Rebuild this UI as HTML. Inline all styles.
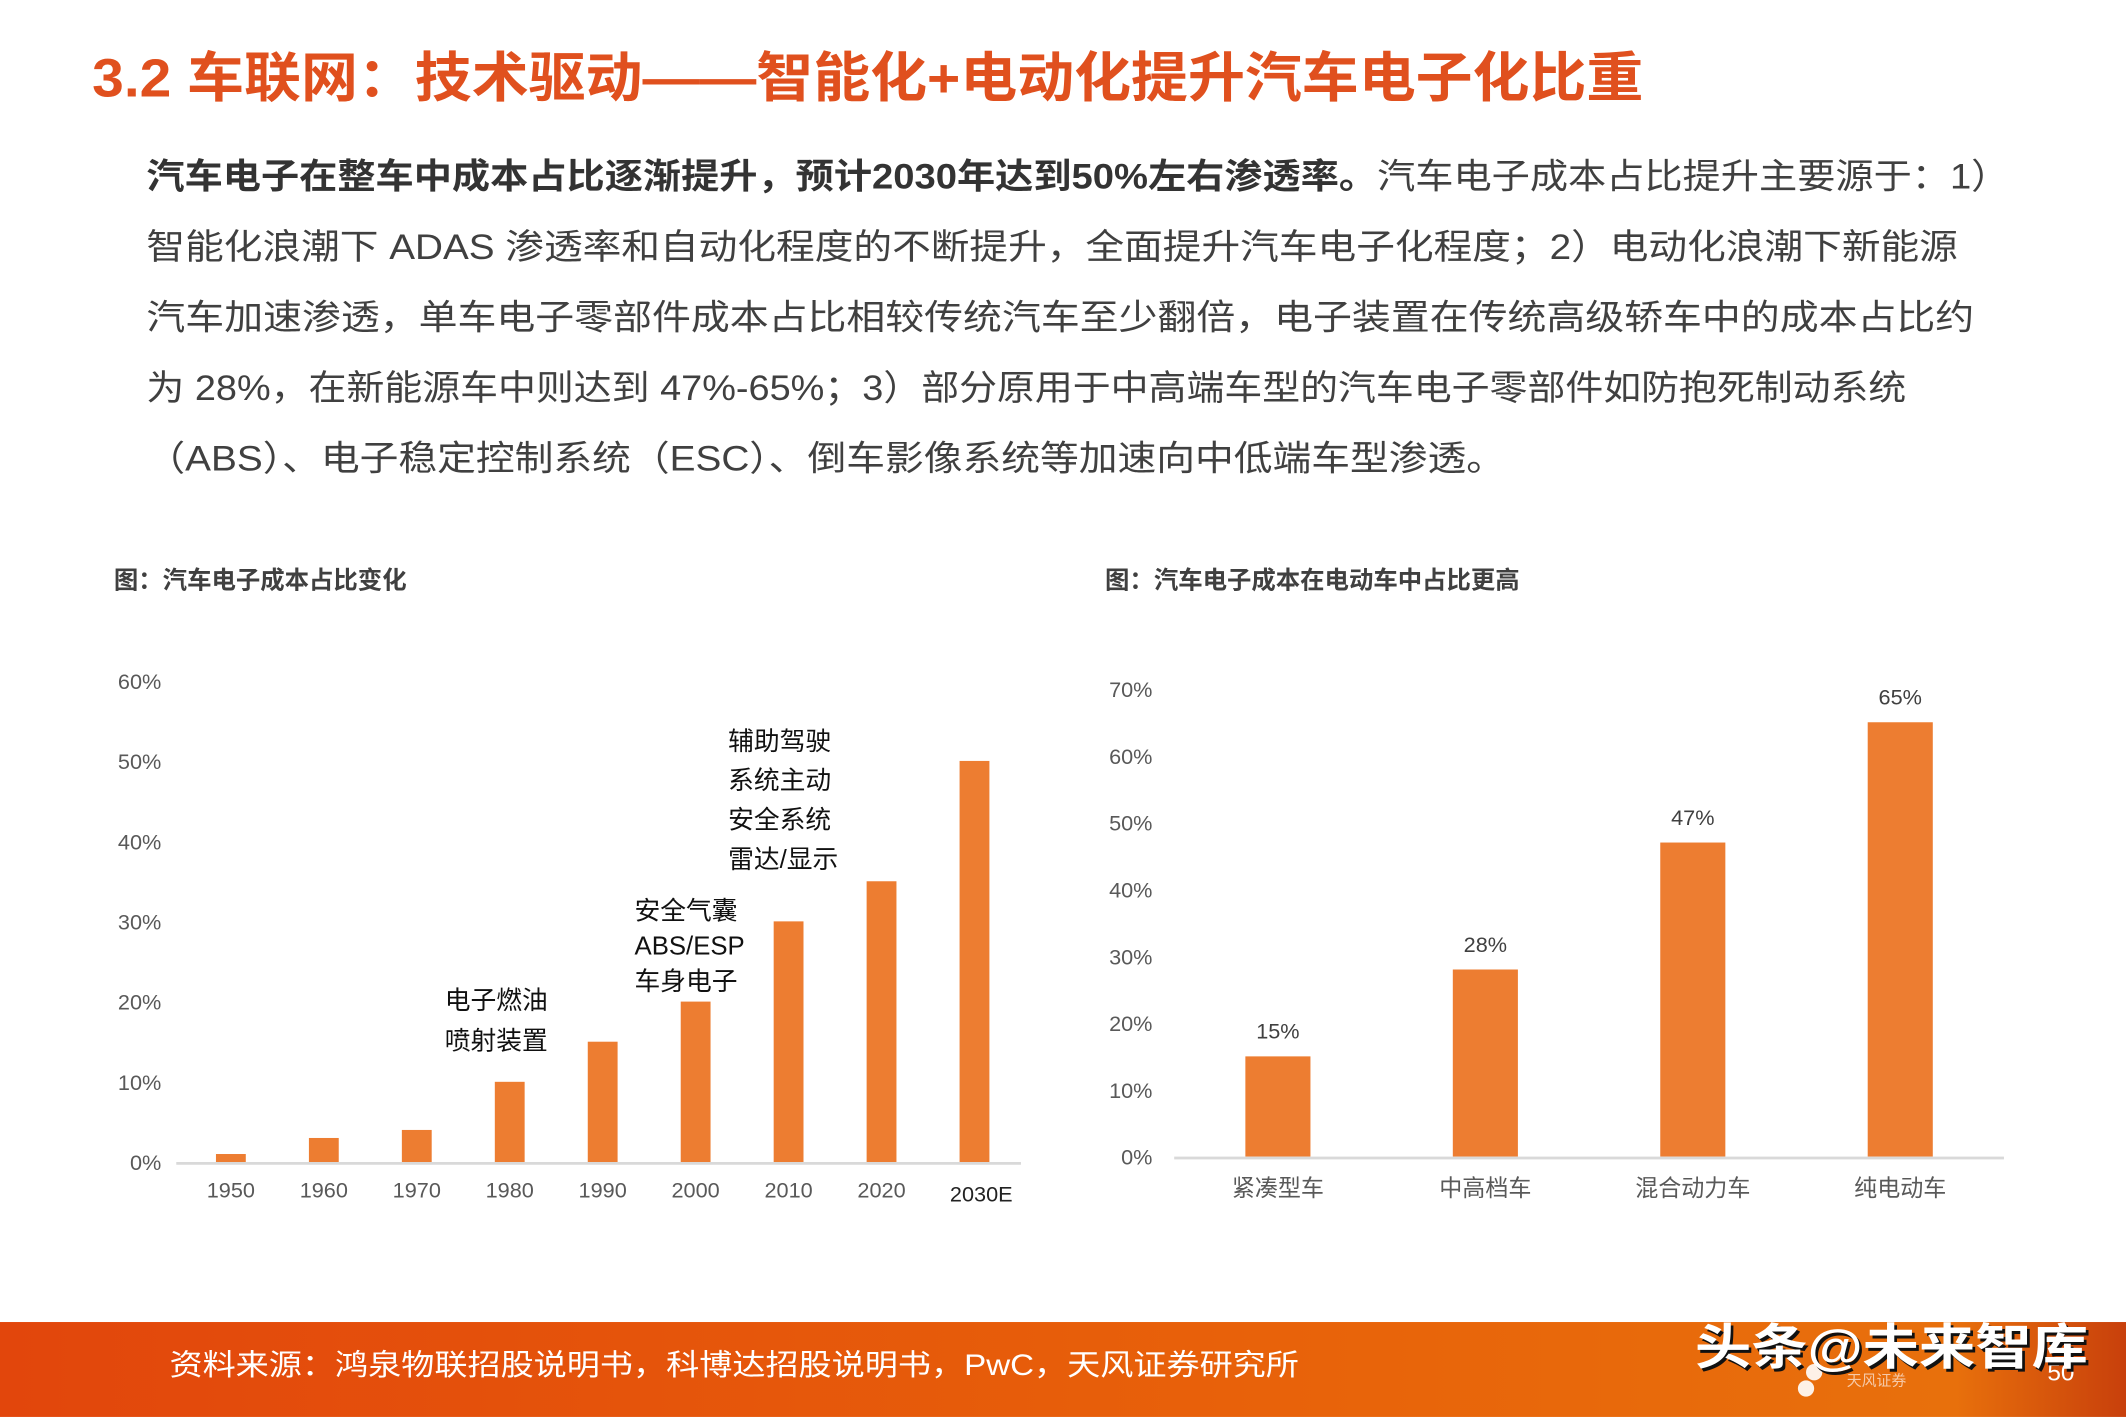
<!DOCTYPE html>
<html><head><meta charset="utf-8">
<style>
html,body{margin:0;padding:0;background:#fff;}
svg{display:block;}
text{font-family:"Liberation Sans","Noto Sans CJK SC",sans-serif;}
</style></head>
<body>
<svg id="page" width="2126" height="1417" viewBox="0 0 1568 1045" xmlns="http://www.w3.org/2000/svg">
<defs>
<linearGradient id="fg" x1="0" x2="1" y1="0" y2="0">
<stop offset="0" stop-color="#E2460C"/><stop offset="0.6" stop-color="#E8620A"/><stop offset="0.92" stop-color="#E8700C"/><stop offset="1" stop-color="#C8400C"/>
</linearGradient>
</defs>
<text x="68" y="71" font-size="40" font-weight="bold" fill="#E0501E" textLength="1144" lengthAdjust="spacingAndGlyphs">3.2 车联网：技术驱动——智能化+电动化提升汽车电子化比重</text>
<g font-size="26" fill="#404040">
<text x="108" y="139" textLength="1374" lengthAdjust="spacingAndGlyphs"><tspan font-weight="bold" fill="#333">汽车电子在整车中成本占比逐渐提升，预计2030年达到50%左右渗透率。</tspan>汽车电子成本占比提升主要源于：1）</text>
<text x="108" y="191" textLength="1336" lengthAdjust="spacingAndGlyphs">智能化浪潮下 ADAS 渗透率和自动化程度的不断提升，全面提升汽车电子化程度；2）电动化浪潮下新能源</text>
<text x="108" y="243" textLength="1348" lengthAdjust="spacingAndGlyphs">汽车加速渗透，单车电子零部件成本占比相较传统汽车至少翻倍，电子装置在传统高级轿车中的成本占比约</text>
<text x="108" y="295" textLength="1298" lengthAdjust="spacingAndGlyphs">为 28%，在新能源车中则达到 47%-65%；3）部分原用于中高端车型的汽车电子零部件如防抱死制动系统</text>
<text x="108" y="347" textLength="1002" lengthAdjust="spacingAndGlyphs">（ABS）、电子稳定控制系统（ESC）、倒车影像系统等加速向中低端车型渗透。</text>
</g>
<text x="84" y="434" font-size="18" font-weight="bold" fill="#404040">图：汽车电子成本占比变化</text>
<text x="815" y="434" font-size="18" font-weight="bold" fill="#404040">图：汽车电子成本在电动车中占比更高</text>
<g id="left-chart"></g>
<g id="right-chart"></g>
<g>
<rect x="0" y="975" width="1568" height="70" fill="url(#fg)"/>
<text x="125" y="1014" font-size="22" fill="#fff" textLength="833" lengthAdjust="spacingAndGlyphs">资料来源：鸿泉物联招股说明书，科博达招股说明书，PwC，天风证券研究所</text>
<circle cx="1338" cy="1012" r="6" fill="#fff" opacity="0.9"/><circle cx="1332" cy="1024" r="6" fill="#fff" opacity="0.9"/>
<text x="1362" y="1022" font-size="11" fill="#f6c9a8">天风证券</text>
<text x="1510" y="1018" font-size="18" fill="#fff">50</text>
<text x="1250" y="1006" font-size="36" font-weight="bold" fill="#111" textLength="290" lengthAdjust="spacingAndGlyphs" transform="translate(2,2)">头条@未来智库</text>
<text x="1250" y="1006" font-size="36" font-weight="bold" fill="#fff" textLength="290" lengthAdjust="spacingAndGlyphs">头条@未来智库</text>
</g>
</svg>
<script>
const NS="http://www.w3.org/2000/svg";
// left chart data
const leftCategories=["1950","1960","1970","1980","1990","2000","2010","2020","2030E"];
const leftValues=[1,3,4,10,15,20,30,35,50];
const leftTicks=[0,10,20,30,40,50,60];
// right chart data
const rightCategories=["紧凑型车","中高档车","混合动力车","纯电动车"];
const rightValues=[15,28,47,65];
const rightTicks=[0,10,20,30,40,50,60,70];
const annoTexts=[["电子燃油","喷射装置"],["安全气囊","ABS/ESP","车身电子"],["辅助驾驶","系统主动","安全系统","雷达/显示"]];

function mk(tag,attrs,parent,txt){const e=document.createElementNS(NS,tag);for(const k in attrs)e.setAttribute(k,attrs[k]);if(txt!==undefined)e.textContent=txt;parent.appendChild(e);return e;}

// left
(function(){
 const g=document.getElementById('left-chart');
 const y0=857,y1=502,vmax=60,x0=136,x1=753;
 const ys=v=>y0-(v/vmax)*(y0-y1);
 const step=(x1-x0)/leftCategories.length;
 const xc=i=>x0+step*(i+0.5);
 leftTicks.forEach(t=>{const e=mk('text',{x:119,y:ys(t)+6,'font-size':16,fill:'#595959','text-anchor':'end'},g,t+'%');
 
 });
 leftValues.forEach((v,i)=>{const r=mk('rect',{x:xc(i)-11,y:ys(v),width:22,height:y0-ys(v),fill:'#ED7D31'},g);
 
 
 const last=i===leftCategories.length-1;
 const t=mk('text',{x:xc(i)+(last?5:0),y:last?886:883,'font-size':16,fill:last?'#222':'#595959','text-anchor':'middle'},g,leftCategories[i]);
 
 });
 const ax=mk('line',{x1:130,x2:753,y1:y0+1,y2:y0+1,stroke:'#d9d9d9','stroke-width':2},g);
 
 
 const annoPos=[[328,744,30],[468,678,26],[537,553,29]];
 annoTexts.forEach((lines,k)=>{lines.forEach((s,j)=>{const t=mk('text',{x:annoPos[k][0],y:annoPos[k][1]+j*annoPos[k][2],'font-size':19,fill:'#111'},g,s);
 
 });});
})();
// right
(function(){
 const g=document.getElementById('right-chart');
 const y0=853,y1=508,vmax=70,x0=866,x1=1478;
 const ys=v=>y0-(v/vmax)*(y0-y1);
 const step=(x1-x0)/rightCategories.length;
 const xc=i=>x0+step*(i+0.5);
 rightTicks.forEach(t=>{const e=mk('text',{x:850,y:ys(t)+6,'font-size':16,fill:'#595959','text-anchor':'end'},g,t+'%');
 
 });
 rightValues.forEach((v,i)=>{const r=mk('rect',{x:xc(i)-24,y:ys(v),width:48,height:y0-ys(v),fill:'#ED7D31'},g);
 
 
 const l=mk('text',{x:xc(i),y:ys(v)-13,'font-size':16,fill:'#404040','text-anchor':'middle'},g,v+'%');
 
 
 const t=mk('text',{x:xc(i),y:882,'font-size':17,fill:'#595959','text-anchor':'middle'},g,rightCategories[i]);
 
 });
 const ax=mk('line',{x1:x0,x2:x1,y1:y0+1,y2:y0+1,stroke:'#d9d9d9','stroke-width':2},g);
 
 
})();
</script>
</body></html>
